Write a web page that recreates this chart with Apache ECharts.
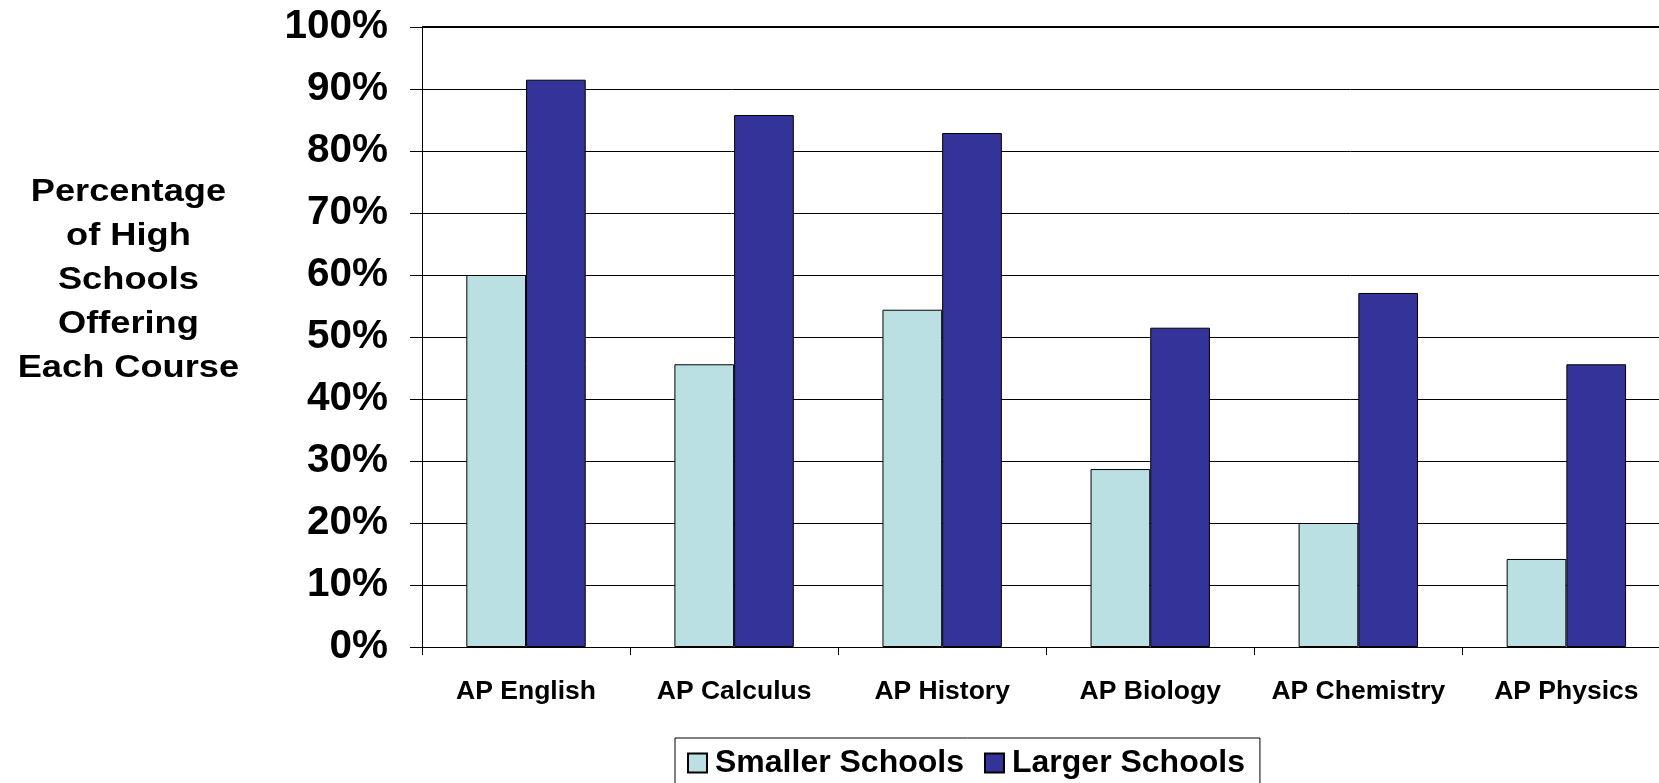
<!DOCTYPE html>
<html>
<head>
<meta charset="utf-8">
<script src="https://cdn.jsdelivr.net/npm/echarts@6/dist/echarts.min.js"></script>
<style>
html,body{margin:0;padding:0;background:#fff;}
#chart{width:1659px;height:783px;}
</style>
</head>
<body>
<div id="chart"></div>
<script>
const categories = ['AP English', 'AP Calculus', 'AP History', 'AP Biology', 'AP Chemistry', 'AP Physics'];
const smallerSchools = [60.0, 45.6, 54.4, 28.7, 20.0, 14.2];
const largerSchools = [91.5, 85.8, 82.9, 51.5, 57.1, 45.6];
const seriesNames = ['Smaller Schools', 'Larger Schools'];
const yTitleLines = ['Percentage', 'of High', 'Schools', 'Offering', 'Each Course'];

const FONT = '"Liberation Sans", Arial, Helvetica, sans-serif';
const chart = echarts.init(document.getElementById('chart'), null, {renderer: 'canvas'});

const option = {
  backgroundColor: '#ffffff',
  animation: false,
  grid: {
    left: 422, top: 27, width: 1248.4, height: 620,
    containLabel: false,
    outerBoundsMode: 'none'
  },
  legend: {
    data: seriesNames,
    left: 675, top: 738,
    padding: [9, 15, 9, 12],
    borderColor: '#000', borderWidth: 1,
    itemWidth: 19, itemHeight: 19, itemGap: 20,
    icon: 'rect',
    textStyle: {fontFamily: FONT, fontSize: 32, fontWeight: 'bold', color: '#000', padding: [0, 0, 0, 3]}
  },
  graphic: [{
    type: 'text',
    x: 128.4, y: 280,
    scaleX: 1.15,
    style: {
      text: yTitleLines.join('\n'),
      x: 0, y: 0,
      textAlign: 'center',
      textVerticalAlign: 'middle',
      font: 'bold 31.5px ' + FONT,
      lineHeight: 44,
      fill: '#000'
    }
  }],
  xAxis: {
    type: 'category',
    data: categories,
    axisLine: {show: true, lineStyle: {color: '#000', width: 1}},
    axisTick: {show: true, length: 8, inside: false, lineStyle: {color: '#000', width: 1}},
    axisLabel: {fontFamily: FONT, fontSize: 26.5, fontWeight: 'bold', color: '#000', margin: 31, interval: 0},
    splitLine: {show: false}
  },
  yAxis: {
    type: 'value',
    min: 0, max: 100, interval: 10,
    axisLine: {show: true, lineStyle: {color: '#000', width: 1}},
    axisTick: {show: true, length: 12, inside: false, lineStyle: {color: '#000', width: 1}},
    axisLabel: {fontFamily: FONT, fontSize: 40.5, fontWeight: 'bold', color: '#000', margin: 34, formatter: '{value}%'},
    splitLine: {show: true, lineStyle: {color: '#000', width: 1}}
  },
  series: [
    {
      name: seriesNames[0], type: 'bar', data: smallerSchools,
      barWidth: 59.7, barGap: '0%',
      itemStyle: {color: '#BBE0E3', borderColor: '#000', borderWidth: 1},
      markLine: {
        silent: true, symbol: 'none', label: {show: false},
        lineStyle: {color: '#000', width: 2, type: 'solid'},
        data: [{yAxis: 100}]
      }
    },
    {
      name: seriesNames[1], type: 'bar', data: largerSchools,
      barWidth: 59.7, barGap: '0%',
      itemStyle: {color: '#333399', borderColor: '#000', borderWidth: 1}
    }
  ]
};
chart.setOption(option);
</script>
</body>
</html>
